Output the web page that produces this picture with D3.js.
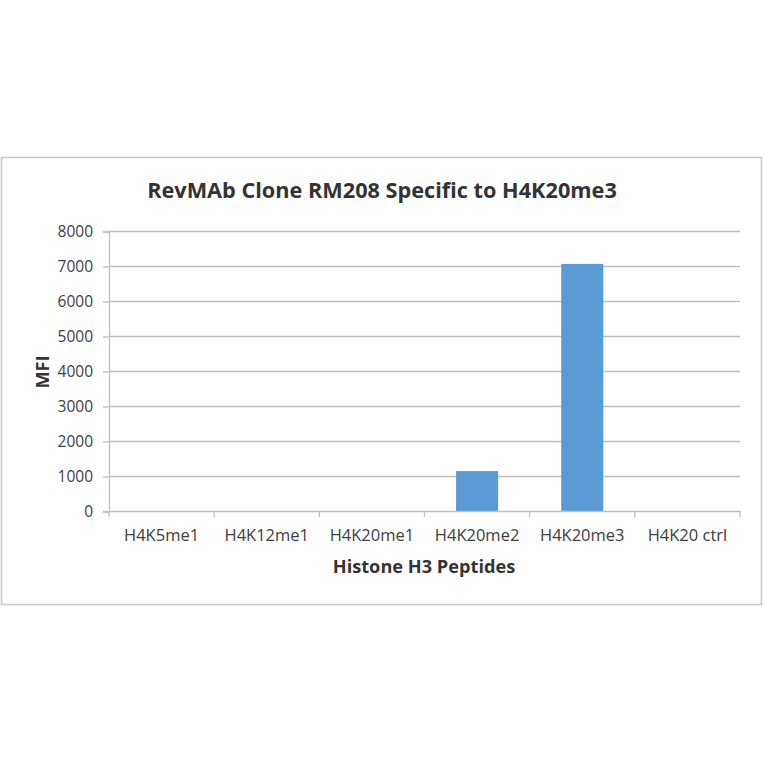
<!DOCTYPE html>
<html>
<head>
<meta charset="utf-8">
<script src="https://cdn.jsdelivr.net/npm/d3@7"></script>
<style>
  body { margin: 0; background: #fff; }
  text { font-family: 'Open Sans', sans-serif; fill: #404040; }
</style>
</head>
<body>
<script>
'use strict';

const categories = ['H4K5me1', 'H4K12me1', 'H4K20me1', 'H4K20me2', 'H4K20me3', 'H4K20 ctrl']
const mfiValues  = [0, 0, 0, 1140, 7060, 0]
const yTicks     = [0, 1000, 2000, 3000, 4000, 5000, 6000, 7000, 8000]

const TITLE   = 'RevMAb Clone RM208 Specific to H4K20me3'
const X_TITLE = 'Histone H3 Peptides'
const Y_TITLE = 'MFI'

const BLUE  = '#5b9bd5'
const GRID  = '#bfbfbf'
const FRAME = '#c8c8c8'

const W = 764, H = 764
const plot = { left: 109, right: 740, top: 231, bottom: 511 }

const svg = d3.select('body')
  .append('svg')
  .attr('width', W)
  .attr('height', H)

// chart frame
svg.append('rect')
  .attr('x', 1.5)
  .attr('y', 157.5)
  .attr('width', 760)
  .attr('height', 447)
  .attr('fill', '#fff')
  .attr('stroke', FRAME)
  .attr('stroke-width', 1.5)

const x = d3.scaleBand()
  .domain(categories)
  .range([plot.left, plot.right])
  .paddingInner(0.6)
  .paddingOuter(0.3)

const y = d3.scaleLinear()
  .domain([0, 8000])
  .range([plot.bottom, plot.top])

// gridlines
svg.append('g')
  .selectAll('line')
  .data(yTicks.filter(d => d > 0))
  .join('line')
  .attr('x1', plot.left)
  .attr('x2', plot.right)
  .attr('y1', d => y(d) + 0.5)
  .attr('y2', d => y(d) + 0.5)
  .attr('stroke', GRID)
  .attr('stroke-width', 1.3)

// y axis
const yAxis = svg.append('g')
  .attr('transform', `translate(${ plot.left }, 0.5)`)
  .call(d3.axisLeft(y).tickValues(yTicks).tickFormat(d3.format('d')).tickSize(6).tickPadding(10))
yAxis.select('.domain').attr('stroke', GRID).attr('stroke-width', 1.3)
yAxis.selectAll('line').attr('stroke', GRID).attr('stroke-width', 1.3)
yAxis.selectAll('text')
  .style('font-family', "'Open Sans', sans-serif")
  .style('font-size', '15.5px')
  .attr('fill', '#404040')

// bars
svg.append('g')
  .selectAll('rect')
  .data(categories.map((c, i) => ({ c, v: mfiValues[i] })).filter(d => d.v > 0))
  .join('rect')
  .attr('x', d => x(d.c))
  .attr('y', d => y(d.v))
  .attr('width', x.bandwidth())
  .attr('height', d => y(0) - y(d.v))
  .attr('fill', BLUE)

// x axis (ticks at category boundaries)
const step = (plot.right - plot.left) / categories.length
const xg = svg.append('g')
xg.append('line')
  .attr('x1', plot.left - 6)
  .attr('x2', plot.right)
  .attr('y1', plot.bottom + 0.5)
  .attr('y2', plot.bottom + 0.5)
  .attr('stroke', GRID)
  .attr('stroke-width', 1.3)
xg.selectAll('.tick')
  .data(d3.range(categories.length + 1))
  .join('line')
  .attr('class', 'tick')
  .attr('x1', i => plot.left + i * step)
  .attr('x2', i => plot.left + i * step)
  .attr('y1', plot.bottom)
  .attr('y2', plot.bottom + 6)
  .attr('stroke', GRID)
  .attr('stroke-width', 1.3)
xg.selectAll('text')
  .data(categories)
  .join('text')
  .attr('x', d => x(d) + x.bandwidth() / 2)
  .attr('y', 541)
  .attr('text-anchor', 'middle')
  .style('font-size', '16.5px')
  .text(d => d)

// titles
svg.append('text')
  .attr('x', 382)
  .attr('y', 198)
  .attr('text-anchor', 'middle')
  .style('font-size', '21.7px')
  .style('font-weight', 'bold')
  .style('fill', '#333')
  .text(TITLE)

svg.append('text')
  .attr('x', 424)
  .attr('y', 573)
  .attr('text-anchor', 'middle')
  .style('font-size', '18.2px')
  .style('font-weight', 'bold')
  .style('fill', '#333')
  .text(X_TITLE)

svg.append('text')
  .attr('transform', 'translate(49, 372) rotate(-90)')
  .attr('text-anchor', 'middle')
  .style('font-size', '18.2px')
  .style('font-weight', 'bold')
  .style('fill', '#333')
  .text(Y_TITLE)
</script>
</body>
</html>
